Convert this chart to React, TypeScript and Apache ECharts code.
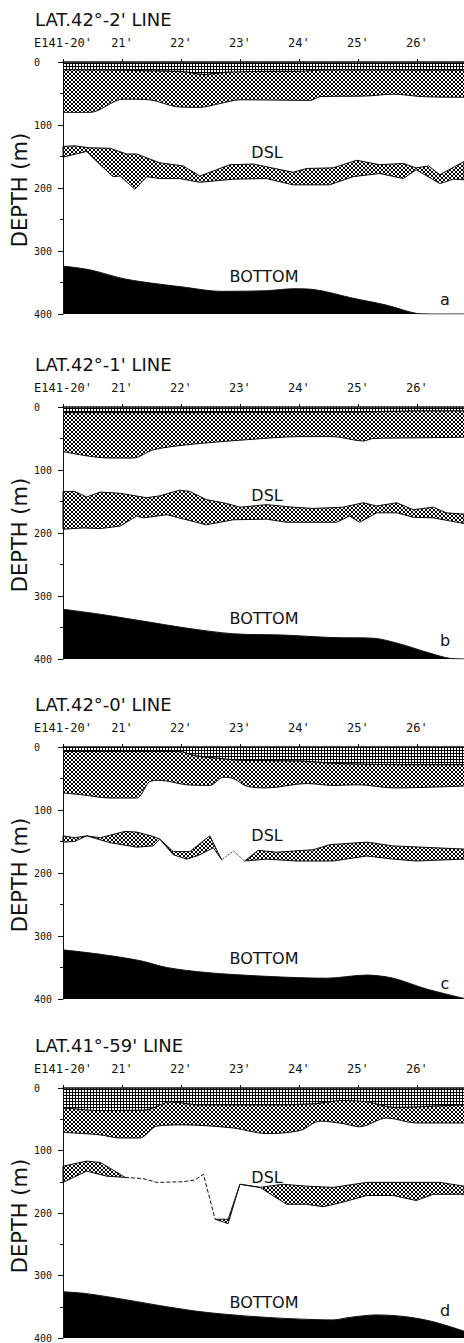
import React, { useEffect, useRef } from 'react';
import * as echarts from 'echarts';

// ---- axis ticks / labels ----
const xTickValues = [20, 21, 22, 23, 24, 25, 26];
const xTickLabels = ["E141-20'", "21'", "22'", "23'", "24'", "25'", "26'"];
const panelTitles = ["LAT.42°-2' LINE", "LAT.42°-1' LINE", "LAT.42°-0' LINE", "LAT.41°-59' LINE"];
const panelLetters = ['a', 'b', 'c', 'd'];

// ---- panel a (LAT 42-2') : [minute, depth m] ----
const aStipple = [[20,12],[21,13],[22,15],[22.4,20],[22.8,16],[23.5,15],[24,15],[24.3,13],[25,12],[26,13],[26.8,13]];
const aHatch = [[20,80],[20.46,80],[21.02,59],[21.47,60],[21.93,71],[22.32,72],[22.66,66],[23.0,60],[24.19,61],[24.36,55],[25.15,54],[25.6,51],[26.1,55],[26.8,56]];
const aDslUpper = [[20,134],[20.2,133],[20.43,136],[20.8,137],[21.08,146],[21.25,146],[21.64,160],[22.04,165],[22.32,181],[22.83,163],[23.23,162],[23.9,175],[24.13,169],[24.58,168],[24.98,156],[25.37,163],[25.77,161],[25.99,168],[26.2,165],[26.39,179],[26.8,158]];
const aDslLower = [[20,151],[20.4,142],[20.63,163],[20.85,182],[20.97,181],[21.22,202],[21.42,182],[21.64,185],[21.98,185],[22.32,191],[22.89,186],[23.45,185],[23.9,195],[24.24,195],[24.52,195],[24.92,182],[25.37,177],[25.77,185],[25.99,171],[26.39,193],[26.62,186],[26.8,187]];
const aBottom = [[20,324],[20.46,330],[21.08,345],[22.1,358],[22.66,364],[23.45,363],[23.9,360],[24.24,361],[24.92,375],[25.49,386],[25.99,399],[26.2,400],[26.8,400]];

// ---- panel b (LAT 42-1') ----
const bStipple = [[20,9],[22,9],[24,8],[25,8],[26,6],[26.8,6]];
const bHatch = [[20,71],[20.51,79],[20.8,81],[21.19,81],[21.53,68],[22.1,60],[23.11,52],[24.02,47],[24.58,47],[25.09,54],[25.26,50],[25.99,49],[26.8,48]];
const bDslUpper = [[20,134],[20.2,134],[20.4,143],[20.63,135],[20.97,137],[21.42,144],[21.64,141],[21.98,132],[22.15,134],[22.43,147],[22.77,153],[23.0,159],[23.45,155],[23.9,159],[24.24,161],[24.75,159],[25.09,152],[25.32,157],[25.66,152],[25.94,163],[26.28,159],[26.5,168],[26.8,170]];
const bDslLower = [[20,194],[20.34,192],[20.63,193],[20.97,189],[21.25,173],[21.36,176],[21.76,171],[22.43,187],[22.89,179],[23.45,178],[23.79,183],[24.64,183],[24.86,173],[25.03,183],[25.32,168],[25.66,168],[25.94,175],[26.28,176],[26.8,185]];
const bBottom = [[20,321],[20.63,329],[21.3,339],[22.1,351],[22.89,360],[23.73,362],[24.58,366],[25.26,367],[25.71,376],[26.16,389],[26.56,399],[26.8,400]];

// ---- panel c (LAT 42-0') ----
const cStipple = [[20,7],[21,7],[21.98,7],[22.2,13],[22.43,16],[23.0,21],[24.02,22],[24.58,26],[25.71,28],[26.8,28]];
const cHatch = [[20,73],[20.34,76],[20.8,81],[21.25,81],[21.47,55],[21.64,53],[22.1,60],[22.49,61],[22.72,48],[22.89,50],[23.11,62],[23.45,65],[24.13,58],[24.58,61],[25.03,60],[25.6,65],[26.8,62]];
const cDslUpper1 = [[20,141],[20.2,144],[20.4,141],[20.63,144],[21.05,134],[21.25,135],[21.53,142],[21.64,146],[21.87,166],[22.15,166],[22.49,141],[22.69,179]];
const cDslLower1 = [[20,151],[20.2,150],[20.4,141],[20.8,152],[21.25,159],[21.53,157],[21.64,146],[21.87,171],[22.1,178],[22.3,172],[22.55,160],[22.69,179]];
const cDslGap = [[22.69,179],[22.89,165],[23.08,181]];
const cDslUpper2 = [[23.08,181],[23.31,164],[23.62,167],[24.24,163],[24.53,155],[25.15,151],[25.6,157],[26.8,162]];
const cDslLower2 = [[23.08,181],[23.45,178],[23.96,181],[24.58,181],[25.15,173],[25.6,178],[25.99,181],[26.8,178]];
const cBottom = [[20,322],[20.63,329],[21.3,339],[21.76,350],[22.43,358],[23.45,364],[24.47,367],[25.15,362],[25.6,367],[26.16,384],[26.8,399]];

// ---- panel d (LAT 41-59') ----
const dStipple = [[20,32],[20.63,36],[21.42,35],[21.81,22],[22.32,27],[23.45,27],[24.3,25],[24.69,20],[25.15,22],[25.6,31],[26.8,27]];
const dHatch = [[20,71],[20.63,75],[20.97,80],[21.3,80],[21.59,61],[22.04,59],[22.89,64],[23.45,73],[24.02,68],[24.36,53],[24.75,57],[25.03,62],[25.49,48],[25.99,56],[26.8,56]];
const dDslUpper1 = [[20,125],[20.4,117],[20.63,119],[20.97,138],[21.05,143]];
const dDslLower1 = [[20,151],[20.4,133],[20.74,141],[21.05,143]];
const dDslGap = [[21.05,143],[21.36,145],[21.59,151],[22.04,150],[22.24,147],[22.38,138],[22.58,210]];
const dDslUpper2 = [[22.58,210],[22.8,210],[23.0,154],[23.34,159],[23.73,154],[24.13,157],[24.58,159],[25.15,151],[25.71,151],[26.39,151],[26.8,157]];
const dDslLower2 = [[22.58,210],[22.8,217],[23.0,154],[23.34,159],[23.79,186],[24.13,186],[24.41,190],[24.69,184],[25.15,172],[25.6,172],[25.99,180],[26.28,170],[26.8,170]];
const dBottom = [[20,326],[20.4,329],[21.08,339],[21.76,350],[22.43,359],[23.45,367],[24.58,371],[24.86,367],[25.32,363],[25.82,366],[26.28,374],[26.8,389]];

const panels = [
  { stipple: aStipple, hatch: aHatch, dsl: [{ upper: aDslUpper, lower: aDslLower }], gaps: [] as number[][][], gapType: 'dotted', bottom: aBottom },
  { stipple: bStipple, hatch: bHatch, dsl: [{ upper: bDslUpper, lower: bDslLower }], gaps: [] as number[][][], gapType: 'dotted', bottom: bBottom },
  { stipple: cStipple, hatch: cHatch, dsl: [{ upper: cDslUpper1, lower: cDslLower1 }, { upper: cDslUpper2, lower: cDslLower2 }], gaps: [cDslGap], gapType: 'dotted', bottom: cBottom },
  { stipple: dStipple, hatch: dHatch, dsl: [{ upper: dDslUpper1, lower: dDslLower1 }, { upper: dDslUpper2, lower: dDslLower2 }], gaps: [dDslGap], gapType: 'dashed', bottom: dBottom },
];

const GRID_TOPS = [62, 407, 747, 1088];
const GRID_H = 252;
const DSL_Y = [152, 495, 835, 1177];
const BOTTOM_Y = [276, 618, 958, 1302];
const LETTER_Y = [299, 640, 983, 1310];
const INK = '#111';
const FONT = '"DejaVu Sans", sans-serif';
const MONO = '"DejaVu Sans Mono", monospace';

function makePattern(kind: 'hatch' | 'stipple') {
  const s = kind === 'stipple' ? 3 : 4;
  const c = document.createElement('canvas');
  c.width = s; c.height = s;
  const ctx = c.getContext('2d')!;
  ctx.fillStyle = '#fff';
  ctx.fillRect(0, 0, s, s);
  ctx.fillStyle = '#000';
  if (kind === 'stipple') {
    ctx.fillRect(0, 0, 3, 1);
    ctx.fillRect(0, 0, 1, 3);
  } else {
    for (let i = 0; i < 4; i++) {
      ctx.fillRect(i, i, 1, 1);
      ctx.fillRect(3 - i, i, 1, 1);
    }
  }
  return { image: c.toDataURL(), repeat: 'repeat', imageWidth: s, imageHeight: s };
}

export default function App() {
  const ref = useRef<HTMLDivElement>(null);
  useEffect(() => {
    const chart = echarts.init(ref.current!, null, { renderer: 'svg' });
    const hatch = makePattern('hatch');
    const stipple = makePattern('stipple');

    const fill = (gi: number, data: any, color: any, origin: string, z: number, smooth: any = false) => ({
      type: 'line', xAxisIndex: gi, yAxisIndex: gi, data, symbol: 'none', smooth, z, silent: true,
      lineStyle: { width: 0, opacity: 0 }, areaStyle: { color, origin, opacity: 1 },
    });
    const edge = (gi: number, data: any, z: number, smooth: any = false, type: any = 'solid', width = 1) => ({
      type: 'line', xAxisIndex: gi, yAxisIndex: gi, data, symbol: 'none', smooth, z, silent: true,
      lineStyle: { color: INK, width, type },
    });
    const band = (gi: number, upper: number[][], lower: number[][], z: number) => ({
      type: 'custom', coordinateSystem: 'cartesian2d', xAxisIndex: gi, yAxisIndex: gi, z, silent: true,
      data: [upper[0]],
      renderItem: (_params: any, api: any) => {
        const pts = upper.map((p) => api.coord(p)).concat(lower.slice().reverse().map((p) => api.coord(p)));
        return {
          type: 'polygon',
          shape: { points: pts },
          style: { fill: hatch, stroke: INK, lineWidth: 1 },
        };
      },
    });

    const grids: any[] = [];
    const xAxes: any[] = [];
    const yAxes: any[] = [];
    const series: any[] = [];
    const graphics: any[] = [];

    panels.forEach((p, gi) => {
      grids.push({ left: 63, right: 0, top: GRID_TOPS[gi], height: GRID_H, containLabel: false });
      xAxes.push({
        gridIndex: gi, type: 'value', position: 'top', min: 20, max: 26.8, z: 10,
        axisLine: { show: true, onZero: false, lineStyle: { color: INK, width: 1.5 } },
        axisTick: { show: true, inside: false, length: 3, customValues: xTickValues, lineStyle: { color: INK } },
        axisLabel: {
          show: true, customValues: xTickValues, margin: 13,
          formatter: (v: number) => xTickLabels[Math.round(v - 20)] ?? '',
          fontFamily: MONO, fontSize: 12, color: INK,
        },
        splitLine: { show: false },
      });
      yAxes.push({
        gridIndex: gi, type: 'value', inverse: true, min: 0, max: 400, interval: 100, z: 10,
        axisLine: { show: true, onZero: false, lineStyle: { color: INK, width: 1 } },
        axisTick: { show: true, length: 5, lineStyle: { color: INK } },
        minorTick: { show: true, splitNumber: 2, length: 3, lineStyle: { color: INK } },
        axisLabel: { margin: 29, align: 'left', fontFamily: MONO, fontSize: 10, color: INK },
        splitLine: { show: false },
        minorSplitLine: { show: false },
      });

      // DSL bands
      p.dsl.forEach((seg) => series.push(band(gi, seg.upper, seg.lower, 3)));
      p.gaps.forEach((g) => series.push(edge(gi, g, 3, false, p.gapType, 1)));
      // surface layers
      series.push(fill(gi, p.hatch, hatch, 'start', 4, 0.3));
      series.push(fill(gi, p.stipple, stipple, 'start', 5, 0.2));
      series.push(edge(gi, p.hatch, 6, 0.3));
      series.push(edge(gi, p.stipple, 6, 0.2, 'solid', 1.2));
      // bottom
      series.push(fill(gi, p.bottom, '#000000', 'end', 6, 0.3));
      series.push(edge(gi, p.bottom, 6, 0.3));

      const top = GRID_TOPS[gi];
      graphics.push(
        { type: 'text', x: 35, y: top - 43, style: { text: panelTitles[gi], font: `18px ${FONT}`, fill: INK, align: 'left', verticalAlign: 'middle' } },
        { type: 'text', x: 20, y: top + 128, rotation: Math.PI / 2, style: { text: 'DEPTH (m)', font: `21px ${FONT}`, fill: INK, align: 'center', verticalAlign: 'middle' } },
        { type: 'text', x: 267, y: DSL_Y[gi], z: 20, style: { text: 'DSL', font: `16px ${FONT}`, fill: INK, align: 'center', verticalAlign: 'middle' } },
        { type: 'text', x: 264, y: BOTTOM_Y[gi], z: 20, style: { text: 'BOTTOM', font: `16px ${FONT}`, fill: INK, align: 'center', verticalAlign: 'middle' } },
        { type: 'text', x: 445, y: LETTER_Y[gi], z: 20, style: { text: panelLetters[gi], font: `16px ${FONT}`, fill: INK, align: 'center', verticalAlign: 'middle' } },
      );
    });

    chart.setOption({
      animation: false,
      backgroundColor: '#ffffff',
      grid: grids,
      xAxis: xAxes,
      yAxis: yAxes,
      series,
      graphic: { elements: graphics },
    });
    return () => chart.dispose();
  }, []);
  return <div ref={ref} style={{ position: 'absolute', left: 0, top: 0, width: 464, height: 1343, background: '#fff' }} />;
}
